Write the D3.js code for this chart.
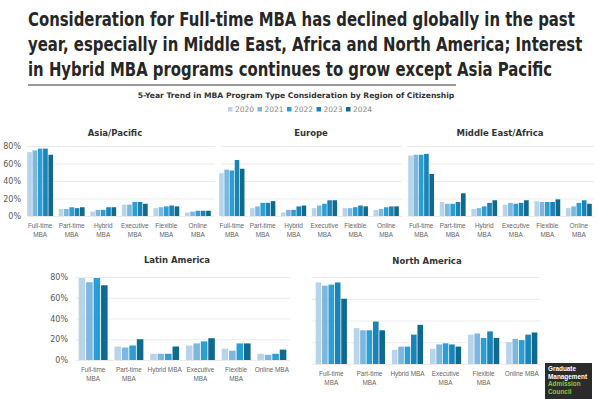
<!DOCTYPE html>
<html>
<head>
<meta charset="utf-8">
<script src="https://cdn.jsdelivr.net/npm/d3@7"></script>
<style>
  body { margin: 0; background: #fff; }
  svg { display: block; font-family: "DejaVu Sans", Verdana, sans-serif; }
</style>
</head>
<body>
<svg width="599" height="399"></svg>
<script>
var years = ["2020", "2021", "2022", "2023", "2024"];
var programs = ["Full-time MBA", "Part-time MBA", "Hybrid MBA", "Executive MBA", "Flexible MBA", "Online MBA"];
var yTicks = [0, 20, 40, 60, 80];
var colors = ["#b8d4ea", "#7db7df", "#2a9fd6", "#1a84b9", "#0e6a8e"];

var titleLines = [
  "Consideration for Full-time MBA has declined globally in the past",
  "year, especially in Middle East, Africa and North America; Interest",
  "in Hybrid MBA programs continues to grow except Asia Pacific"
];
var subtitle = "5-Year Trend in MBA Program Type Consideration by Region of Citizenship";

// values per program, one per year (%), null = not reported
var asiaPacific = [[73, 75, 77, 77, 70], [8, 8, 10, 9, 10], [5, 7, 7, 10, 10], [13, 13, 16, 16, 14], [9, 10, 11, 12, 11], [4, 5, 6, 6, 6]];
var europe = [[49, 53, 52, 64, 54], [9, 11, 15, 15, 17], [4, 7, 7, 11, 12], [9, 12, 14, 18, 18], [9, 9, 10, 12, 11], [7, 8, 10, 11, 11]];
var middleEastAfrica = [[69, 70, 70, 71, 48], [16, 14, 14, 16, 26], [8, 9, 11, 15, 18], [13, 15, 14, 15, 18], [17, 16, 16, 16, 19], [9, 11, 15, 18, 14]];
var latinAmerica = [[79, 75, 79, null, 72], [13, 12, 14, null, 20], [6, 6, 6, null, 13], [14, 16, 18, null, 21], [11, 9, 16, null, 16], [6, 5, 6, null, 10]];
var northAmerica = [[75, 72, 73, 75, 60], [33, 31, 31, 39, 31], [13, 16, 16, 27, 36], [14, 18, 19, 18, 16], [27, 28, 24, 30, 24], [20, 23, 22, 27, 29]];

var twoLine = [["Full-time", "MBA"], ["Part-time", "MBA"], ["Hybrid", "MBA"], ["Executive", "MBA"], ["Flexible", "MBA"], ["Online", "MBA"]];
var mixedLine = [["Full-time", "MBA"], ["Part-time", "MBA"], ["Hybrid MBA"], ["Executive", "MBA"], ["Flexible", "MBA"], ["Online MBA"]];

var svg = d3.select("svg");

// headline (squeezed horizontally to the original's width)
var head = svg.append("g").attr("font-weight", "bold").attr("fill", "#262626");
var headText = head.selectAll("text").data(titleLines).enter().append("text")
  .attr("x", 0).attr("y", 0)
  .attr("font-size", 20)
  .text(function(d) { return d; });
var sx = 547 / headText.nodes()[0].getComputedTextLength();
headText.attr("transform", function(d, i) { return "translate(28," + (26 + i * 25) + ") scale(" + sx + ",1)"; });

svg.append("line").attr("x1", 28).attr("x2", 456).attr("y1", 85).attr("y2", 85)
  .attr("stroke", "#333").attr("stroke-width", 1.2);

var sub = svg.append("text").attr("x", 296).attr("y", 98).attr("text-anchor", "middle")
  .attr("font-size", 9).attr("font-weight", "bold").attr("fill", "#333").text(subtitle);
sub.attr("font-size", 9 * 317 / sub.node().getComputedTextLength());

// legend
var leg = svg.append("g").selectAll("g").data(years).enter().append("g")
  .attr("transform", function(d, i) { return "translate(" + (228 + i * 29.5) + ",111)"; });
leg.append("rect").attr("x", 0).attr("y", -4).attr("width", 4.5).attr("height", 4.5)
  .attr("fill", function(d, i) { return colors[i]; });
leg.append("text").attr("x", 7).attr("y", 0.5).attr("font-size", 7.5).attr("fill", "#888")
  .text(function(d) { return d; });

function panel(opt) {
  var g = svg.append("g");
  var y = d3.scaleLinear().domain([0, 80]).range([opt.y0, opt.y1]);
  var x0 = d3.scaleBand().domain(programs).range([opt.xa, opt.xb]).paddingInner(0.14).paddingOuter(0.05);

  g.append("g").selectAll("line").data(yTicks).enter().append("line")
    .attr("x1", opt.gx0).attr("x2", opt.gx1)
    .attr("y1", function(d) { return y(d) + 0.5; }).attr("y2", function(d) { return y(d) + 0.5; })
    .attr("stroke", "#e6e6e6").attr("stroke-width", 0.8);

  if (opt.axis) {
    var ax = g.append("g").attr("transform", "translate(" + opt.axisX + ",0)")
      .call(d3.axisLeft(y).tickValues(yTicks).tickSize(0).tickPadding(0).tickFormat(function(d) { return d + "%"; }));
    ax.select(".domain").remove();
    ax.selectAll("text").attr("font-family", "DejaVu Sans, sans-serif").attr("font-size", 8).attr("fill", "#595959");
  }

  programs.forEach(function(p, pi) {
    var vals = opt.data[pi];
    var keys = years.filter(function(yr, yi) { return vals[yi] != null; });
    var x1 = d3.scaleBand().domain(keys).range([0, x0.bandwidth()]).padding(0.12);
    g.append("g").attr("transform", "translate(" + x0(p) + ",0)")
      .selectAll("rect").data(keys).enter().append("rect")
      .attr("x", function(k) { return x1(k); })
      .attr("width", x1.bandwidth())
      .attr("y", function(k) { return y(vals[years.indexOf(k)]); })
      .attr("height", function(k) { return y(0) - y(vals[years.indexOf(k)]); })
      .attr("fill", function(k) { return colors[years.indexOf(k)]; });
  });

  // category labels, narrowed like the original's condensed face
  var lab = g.append("g").selectAll("text").data(programs).enter().append("text")
    .attr("transform", function(d) { return "translate(" + (x0(d) + x0.bandwidth() / 2) + "," + opt.labY + ") scale(0.8,1)"; })
    .attr("text-anchor", "middle").attr("font-size", 8).attr("fill", "#666")
    .attr("font-family", "'Liberation Sans', Arial, sans-serif");
  lab.selectAll("tspan").data(function(d, i) { return opt.labels[i]; }).enter().append("tspan")
    .attr("x", 0)
    .attr("dy", function(d, i) { return i === 0 ? 0 : 9.5; })
    .text(function(d) { return d; });

  g.append("text").attr("x", opt.tx).attr("y", opt.ty).attr("text-anchor", "middle")
    .attr("font-size", 8.5).attr("font-weight", "bold").attr("fill", "#333").text(opt.title);
}

panel({ title: "Asia/Pacific", data: asiaPacific, labels: twoLine, xa: 25, xb: 213, gx0: 27, gx1: 215, y0: 216, y1: 146, tx: 115, ty: 136, labY: 228, axis: true, axisX: 21 });
panel({ title: "Europe", data: europe, labels: twoLine, xa: 217, xb: 401, gx0: 221, gx1: 402, y0: 216, y1: 146, tx: 311, ty: 136, labY: 228, axis: false });
panel({ title: "Middle East/Africa", data: middleEastAfrica, labels: twoLine, xa: 406, xb: 594, gx0: 407, gx1: 594, y0: 216, y1: 146, tx: 500, ty: 136, labY: 228, axis: false });
panel({ title: "Latin America", data: latinAmerica, labels: mixedLine, xa: 76, xb: 289, gx0: 76, gx1: 290, y0: 360, y1: 277, tx: 177, ty: 263, labY: 372, axis: true, axisX: 68 });
panel({ title: "North America", data: northAmerica, labels: mixedLine, xa: 313, xb: 540, gx0: 312, gx1: 540, y0: 364, y1: 277, tx: 427, ty: 264, labY: 376, axis: false });

// logo block
var logo = svg.append("g").attr("transform", "translate(545,363)");
logo.append("rect").attr("width", 47).attr("height", 36).attr("fill", "#2b2b2b");
var logoLines = [["Graduate", "#fff"], ["Management", "#fff"], ["Admission", "#8dc63f"], ["Council", "#8dc63f"]];
logo.selectAll("text").data(logoLines).enter().append("text")
  .attr("x", 3).attr("y", function(d, i) { return 8 + i * 7.6; })
  .attr("font-size", 6.4).attr("font-weight", "bold").attr("fill", function(d) { return d[1]; })
  .attr("font-family", "Liberation Sans, Arial, sans-serif")
  .text(function(d) { return d[0]; });
</script>
</body>
</html>
